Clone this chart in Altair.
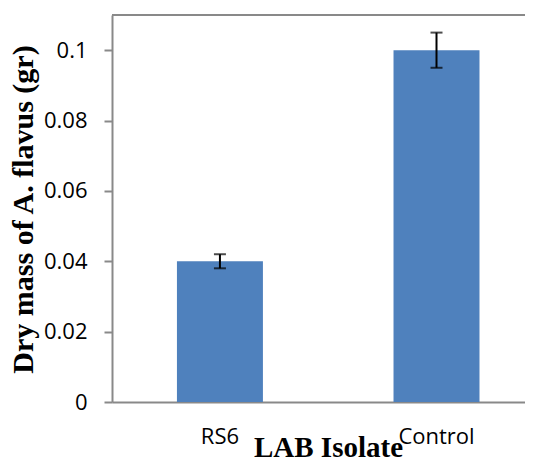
import altair as alt
import pandas as pd

categories = ["RS6", "Control"]
values = [0.04, 0.1]
errors = [0.002, 0.005]
y_ticks = [0, 0.02, 0.04, 0.06, 0.08, 0.1]

df = pd.DataFrame({"cat": categories, "val": values, "err": errors})
df["lo"] = df["val"] - df["err"]
df["hi"] = df["val"] + df["err"]

GRAY = "#898989"

xscale = alt.Scale(domain=categories, paddingInner=0.603, paddingOuter=0.255, align=0.588)
yscale = alt.Scale(domain=[0, 0.11], nice=False, zero=True)

bars = alt.Chart(df).mark_bar(color="#4F81BD").encode(
    x=alt.X("cat:N", scale=xscale, sort=categories, title="LAB Isolate"),
    y=alt.Y("val:Q", scale=yscale, title="Dry mass of A. flavus (gr)",
            axis=alt.Axis(values=y_ticks, format="~g")),
)

rules = alt.Chart(df).mark_rule(color="black", strokeWidth=2).encode(
    x=alt.X("cat:N", scale=xscale, sort=categories),
    y=alt.Y("lo:Q", scale=yscale),
    y2="hi:Q",
)
cap_hi = alt.Chart(df).mark_tick(color="black", thickness=2, size=12, orient="horizontal").encode(
    x=alt.X("cat:N", scale=xscale, sort=categories),
    y=alt.Y("hi:Q", scale=yscale),
)
cap_lo = alt.Chart(df).mark_tick(color="black", thickness=2, size=12, orient="horizontal").encode(
    x=alt.X("cat:N", scale=xscale, sort=categories),
    y=alt.Y("lo:Q", scale=yscale),
)
top = alt.Chart(pd.DataFrame({"t": [0.11]})).mark_rule(color=GRAY, strokeWidth=2).encode(
    y=alt.Y("t:Q", scale=yscale)
)

chart = alt.layer(bars, rules, cap_hi, cap_lo, top).properties(
    width=413, height=387,
    autosize=alt.AutoSizeParams(type="none"),
    padding={"left": 104, "top": 7, "right": 0, "bottom": 55},
).configure_view(stroke=None).configure(background="white").configure_axisX(
    labelAngle=0, ticks=False,
    labelFont="Open Sans", labelFontSize=22, labelColor="#000000",
    labelBaseline="alphabetic", labelPadding=41,
    titleFont="Liberation Serif", titleFontSize=29, titleFontWeight="bold",
    titleColor="#000000", titleX=216, titleY=54, titleBaseline="alphabetic",
    titleAlign="center", grid=False,
    domainColor=GRAY, domainWidth=2,
).configure_axisY(
    grid=False, ticks=True, tickSize=8, tickColor=GRAY, tickWidth=2,
    labelFont="Open Sans", labelFontSize=22, labelColor="#000000",
    labelPadding=17, labelBaseline="middle",
    domainColor=GRAY, domainWidth=2,
    titleFont="Liberation Serif", titleFontSize=30, titleFontWeight="bold",
    titleColor="#000000", titleAngle=270, titleX=-80, titleY=194,
    titleAlign="center", titleBaseline="alphabetic",
)

chart.save("out.html", embed_options={"renderer": "svg", "actions": False})
